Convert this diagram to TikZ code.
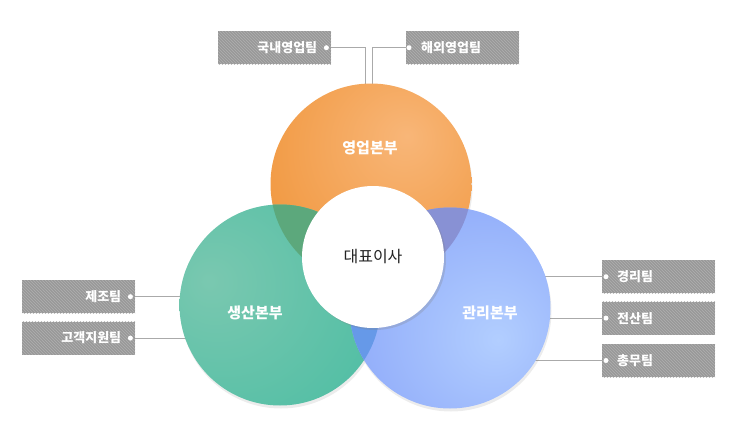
\documentclass[tikz,border=0pt]{standalone}
\usepackage{fontspec}
\setmainfont{Noto Sans CJK KR}
\usepackage{xcolor}
\usetikzlibrary{positioning, calc, patterns, shadows, backgrounds}

\definecolor{salesout}{HTML}{F0953A}
\definecolor{salesin}{HTML}{F8B678}
\definecolor{prodout}{HTML}{4CBDA3}
\definecolor{prodin}{HTML}{7AC8B0}
\definecolor{mgmtout}{HTML}{86A1F8}
\definecolor{mgmtin}{HTML}{B2CEFF}
\definecolor{lenssp}{HTML}{5CA87C}
\definecolor{lenssm}{HTML}{8891D4}
\definecolor{lenspm}{HTML}{6699E8}
\definecolor{boxgray}{HTML}{999999}
\definecolor{boxline}{HTML}{B0B0B0}
\definecolor{linegray}{HTML}{AAAAAA}
\definecolor{ceotext}{HTML}{222222}

\pgfdeclareradialshading{salesglow}{\pgfpoint{9bp}{12bp}}{color(0bp)=(salesin); color(40bp)=(salesout); color(100bp)=(salesout)}
\pgfdeclareradialshading{prodglow}{\pgfpoint{-18bp}{6bp}}{color(0bp)=(prodin); color(45bp)=(prodout); color(100bp)=(prodout)}
\pgfdeclareradialshading{mgmtglow}{\pgfpoint{12bp}{-8bp}}{color(0bp)=(mgmtin); color(45bp)=(mgmtout); color(100bp)=(mgmtout)}

\begin{document}
\begin{tikzpicture}[
  x=1pt, y=-1pt,
  dept/.style={circle, minimum size=201pt, inner sep=0pt, drop shadow={opacity=0.15, shadow xshift=1pt, shadow yshift=-3pt}},
  deptlabel/.style={text=white, font=\bfseries\fontsize{15}{15}\selectfont},
  ceo/.style={circle, fill=white, minimum size=142pt, inner sep=0pt, text=ceotext, font=\fontsize{16}{16}\selectfont, drop shadow={opacity=0.25, shadow xshift=2pt, shadow yshift=-2pt}},
  team/.style={minimum width=113pt, minimum height=33pt, inner sep=0pt, fill=boxgray, postaction={pattern=north west lines, pattern color=boxline}, text=white, font=\bfseries\fontsize{13}{13}\selectfont},
  teaml/.style={team, text width=85pt, align=right},
  teamr/.style={team, text width=83pt, align=left},
  dot/.style={circle, fill=white, inner sep=0pt, minimum size=5pt},
  conn/.style={draw=linegray, line width=0.8pt}
]
\useasboundingbox (0,0) rectangle (740,439);

% departments
\node[dept, shading=salesglow] (sales) at (371,184) {};
\node[dept, shading=prodglow] (prod) at (280,305) {};
\node[dept, shading=mgmtglow] (mgmt) at (450,308) {};

% overlaps
\begin{scope}
  \clip (sales.center) circle[radius=100.5pt];
  \fill[lenssp] (prod.center) circle[radius=100.5pt];
  \fill[lenssm] (mgmt.center) circle[radius=100.5pt];
\end{scope}
\begin{scope}
  \clip (prod.center) circle[radius=100.5pt];
  \fill[lenspm] (mgmt.center) circle[radius=100.5pt];
\end{scope}

\node[deptlabel] (saleslbl) at (370,148) {영업본부};
\node[deptlabel] (prodlbl) at (255,313) {생산본부};
\node[deptlabel] (mgmtlbl) at (490,313) {관리본부};

\node[ceo] (ceo) at (373,257) {대표이사};

% teams
\node[teaml, anchor=north west] (dom) at (218,31) {국내영업팀};
\node[teamr, anchor=north west] (ovs) at (406,31) {해외영업팀};
\node[teaml, anchor=north west] (mfg) at (22,280) {제조팀};
\node[teaml, below=8pt of mfg] (cs) {고객지원팀};
\node[teamr, anchor=north west] (acct) at (602,260) {경리팀};
\node[teamr, below=8pt of acct] (it) {전산팀};
\node[teamr, below=9pt of it] (gen) {총무팀};

\node[dot] (ddom) at ([xshift=-5pt]dom.east) {};
\node[dot] (dovs) at ([xshift=3pt]ovs.west) {};
\node[dot] (dmfg) at ([xshift=-5pt]mfg.east) {};
\node[dot] (dcs) at ([xshift=-5pt]cs.east) {};
\node[dot] (dacct) at ([xshift=4pt]acct.west) {};
\node[dot] (dit) at ([xshift=4pt]it.west) {};
\node[dot] (dgen) at ([xshift=4pt]gen.west) {};

% connectors
\begin{scope}[on background layer]
\draw[conn] (ddom) -| ($(sales.center)+(-6,0)$);
\draw[conn] (dovs) -| ($(sales.center)+(1,0)$);
\draw[conn] (dmfg) -- (dmfg -| prod.center);
\draw[conn] (dcs) -- (dcs -| prod.center);
\draw[conn] (dacct) -- (dacct -| mgmt.center);
\draw[conn] (dit) -- (dit -| mgmt.center);
\draw[conn] (dgen) -- (dgen -| mgmt.center);
\end{scope}
\end{tikzpicture}
\end{document}
